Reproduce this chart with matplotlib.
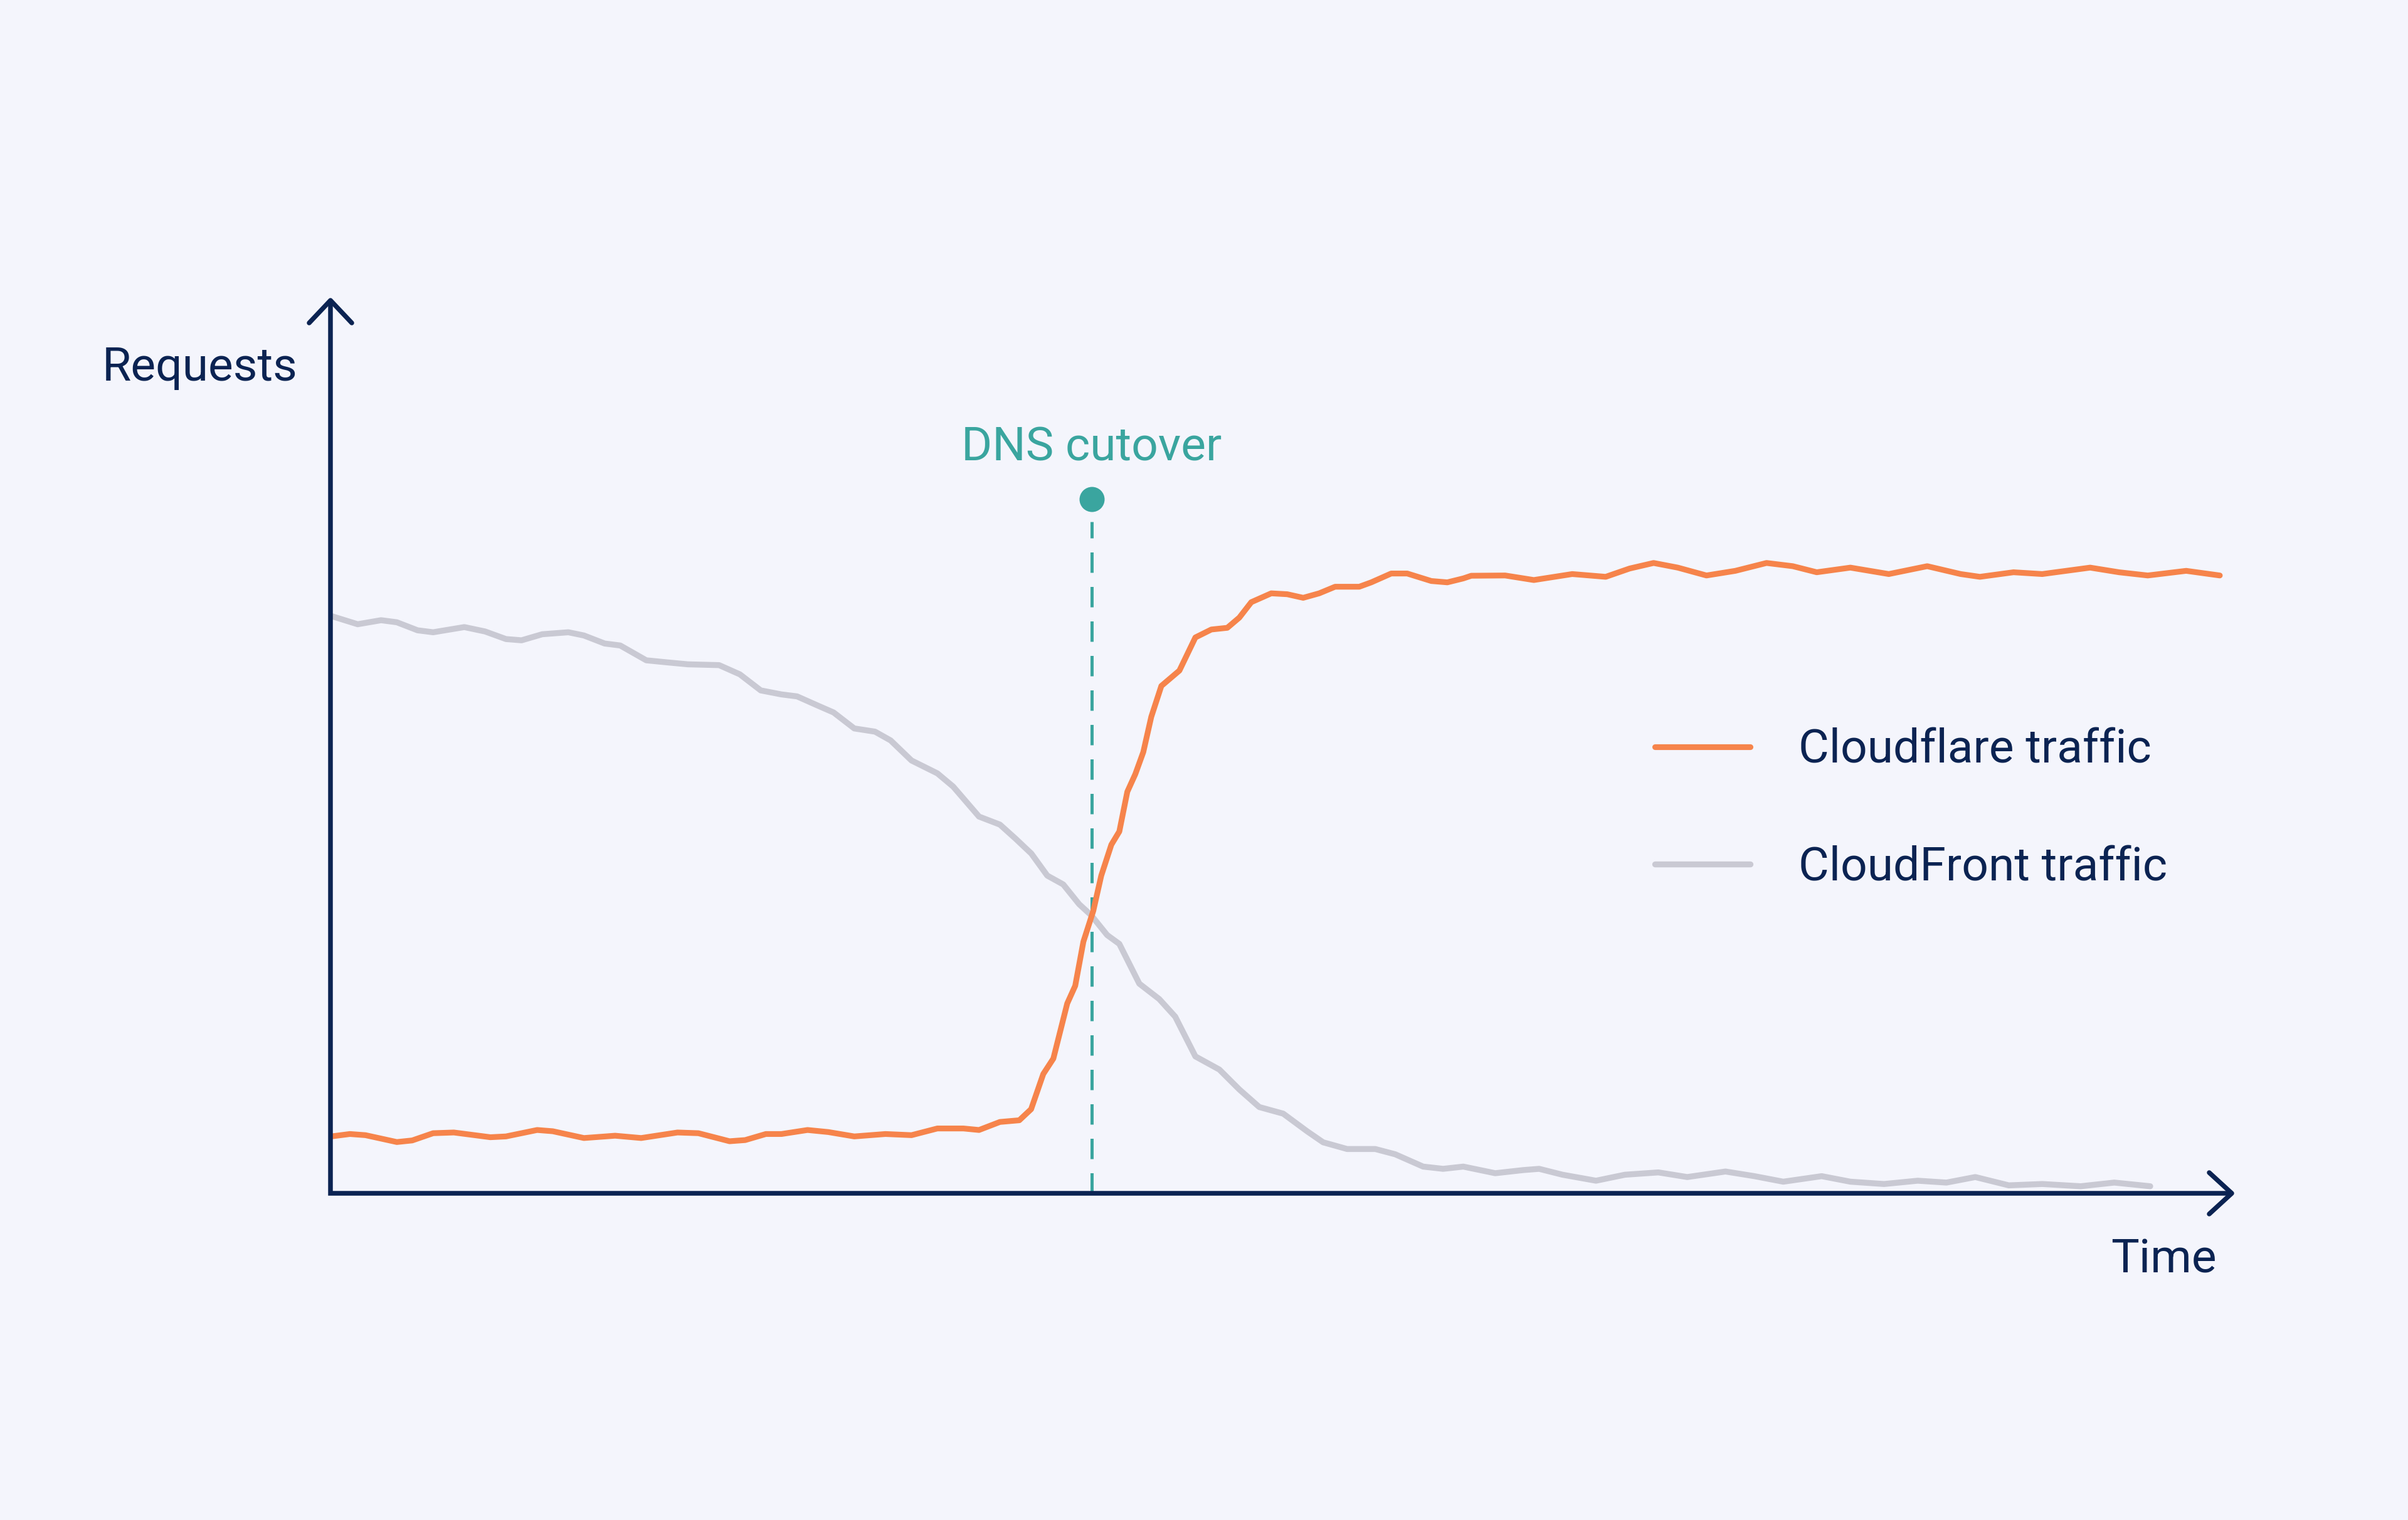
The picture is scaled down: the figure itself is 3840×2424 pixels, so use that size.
import matplotlib
matplotlib.use('Agg')
import matplotlib.pyplot as plt

# time axis runs 0..100 (arrow tip), requests 0..100 (arrow tip)
t_cloudflare = [0.07, 1.02, 1.84, 3.49, 4.30, 5.40, 6.49, 8.41, 9.23, 10.87, 11.69, 13.33,
                14.97, 16.34, 18.25, 19.35, 20.99, 21.81, 22.90, 23.72, 25.09, 26.18, 27.55,
                29.19, 30.56, 31.92, 33.29, 34.11, 35.21, 36.23, 36.85, 37.49, 38.02, 38.75,
                39.17, 39.60, 40.12, 40.54, 41.07, 41.49, 41.91, 42.33, 42.75, 43.17, 43.70,
                44.65, 45.49, 46.33, 47.17, 47.80, 48.43, 49.48, 50.32, 51.16, 52.00, 52.84,
                54.11, 54.74, 55.79, 56.63, 57.90, 58.74, 59.58, 60.00, 61.78, 63.29, 65.31,
                67.07, 68.33, 69.59, 70.86, 72.37, 73.89, 75.53, 76.91, 78.17, 79.94, 81.96,
                83.98, 85.74, 86.75, 88.52, 90.03, 92.55, 94.07, 95.58, 97.60, 99.37]
cloudflare = [6.38, 6.64, 6.51, 5.74, 5.92, 6.73, 6.81, 6.28, 6.37, 7.09, 6.95, 6.19,
              6.45, 6.19, 6.81, 6.73, 5.83, 5.96, 6.64, 6.64, 7.09, 6.86, 6.37,
              6.64, 6.51, 7.26, 7.26, 7.09, 7.99, 8.18, 9.42, 13.36, 15.09, 21.26,
              23.24, 28.18, 31.63, 35.58, 39.04, 40.52, 44.97, 46.94, 49.41, 53.36, 56.82,
              58.54, 62.25, 63.14, 63.33, 64.47, 66.20, 67.19, 67.09, 66.69, 67.19, 67.93,
              67.93, 68.42, 69.41, 69.41, 68.57, 68.42, 68.86, 69.16, 69.19, 68.68, 69.35,
              69.04, 69.97, 70.59, 70.07, 69.19, 69.71, 70.59, 70.23, 69.55, 70.07, 69.35,
              70.23, 69.35, 69.04, 69.55, 69.35, 70.07, 69.55, 69.19, 69.71, 69.19]

t_cloudfront = [0.07, 1.43, 2.66, 3.49, 4.58, 5.40, 7.04, 8.13, 9.23, 10.05, 11.14, 12.51,
                13.33, 14.42, 15.24, 16.61, 17.70, 18.80, 20.44, 21.53, 22.63, 23.72, 24.54,
                25.64, 26.46, 27.55, 28.64, 29.46, 30.56, 31.92, 32.75, 34.11, 35.21, 36.03,
                36.86, 37.70, 38.54, 39.38, 40.01, 40.85, 41.49, 42.54, 43.59, 44.43, 45.49,
                46.75, 47.80, 48.85, 50.11, 51.37, 52.21, 53.47, 54.95, 56.00, 57.47, 58.52,
                59.58, 61.26, 62.73, 63.57, 64.80, 66.56, 68.08, 69.84, 71.36, 73.37, 74.89,
                76.41, 78.43, 79.94, 81.71, 83.48, 84.99, 86.51, 88.27, 90.03, 92.05, 93.82,
                95.71]
cloudfront = [64.63, 63.73, 64.18, 63.95, 63.05, 62.83, 63.41, 62.92, 62.07, 61.93, 62.61, 62.83,
              62.47, 61.57, 61.35, 59.69, 59.46, 59.24, 59.15, 58.12, 56.32, 55.87, 55.65,
              54.61, 53.85, 52.06, 51.70, 50.72, 48.47, 47.03, 45.55, 42.19, 41.29, 39.72,
              38.05, 35.58, 34.59, 32.37, 31.14, 28.92, 27.93, 23.48, 21.75, 19.78, 15.33,
              13.86, 11.63, 9.66, 8.92, 6.94, 5.71, 4.96, 4.96, 4.37, 2.99, 2.74,
              2.99, 2.25, 2.60, 2.74, 2.08, 1.41, 2.08, 2.34, 1.82, 2.44, 1.92,
              1.30, 1.92, 1.30, 1.04, 1.41, 1.20, 1.82, 0.89, 1.04, 0.79, 1.20,
              0.79]

cutover_t = 40.04
cutover_label = 'DNS cutover'
series_labels = ['Cloudflare traffic', 'CloudFront traffic']

BG = '#F4F5FC'
NAVY = '#0B2352'
ORANGE = '#F6844B'
GREY = '#C9C9D3'
TEAL = '#3AA59F'

W, H = 3840, 2424
DPI = 200
plt.rcParams['font.family'] = ['Roboto', 'DejaVu Sans']

fig = plt.figure(figsize=(W / DPI, H / DPI), dpi=DPI, facecolor=BG)
# axes box: origin at (527, 1903) px, arrow tips at x=3559 / y=479
ax = fig.add_axes([527 / W, 1 - 1903 / H, (3559 - 527) / W, (1903 - 479) / H])
ax.set_facecolor(BG)
ax.set_xlim(0, 100)
ax.set_ylim(0, 100)
ax.axis('off')

ax.plot(t_cloudfront, cloudfront, color=GREY, lw=3.4, label=series_labels[1],
        solid_capstyle='round', solid_joinstyle='round', zorder=2, clip_on=False)
ax.plot([cutover_t, cutover_t], [0, 75.2], color=TEAL, lw=1.8, dashes=(6.5, 4.5),
        zorder=3, clip_on=False)
ax.plot(t_cloudflare, cloudflare, color=ORANGE, lw=3.3, label=series_labels[0],
        solid_capstyle='round', solid_joinstyle='round', zorder=4, clip_on=False)
ax.plot([cutover_t], [77.76], 'o', color=TEAL, ms=14.4, mec='none', zorder=5, clip_on=False)

# axes with open arrow heads
axis_kw = dict(color=NAVY, lw=2.7, transform=ax.transAxes, clip_on=False,
               solid_joinstyle='miter', solid_capstyle='butt', zorder=6)
ax.plot([0, 0, 1], [1, 0, 0], **axis_kw)
hx, hy = 36 / 3032, 33 / 1424
ax.plot([1 - hx, 1, 1 - hx], [hy, 0, -hy], **dict(axis_kw, solid_capstyle='round',
                                                    solid_joinstyle='round'))
vx, vy = 34 / 3032, 36 / 1424
ax.plot([-vx, 0, vx], [1 - vy, 1, 1 - vy], **dict(axis_kw, solid_capstyle='round',
                                                    solid_joinstyle='round'))

FS = 27
fig.text(163 / W, 1 - 607 / H, 'Requests', color=NAVY, fontsize=FS, va='baseline', ha='left')
fig.text(3535 / W, 1 - 2030 / H, 'Time', color=NAVY, fontsize=FS, va='baseline', ha='right')
ax.text(cutover_t, 82.05, cutover_label, color=TEAL, fontsize=FS, ha='center', va='baseline')

handles, labels = ax.get_legend_handles_labels()
order = [1, 0]
leg = ax.legend([handles[i] for i in order], [labels[i] for i in order],
                loc='center left', bbox_to_anchor=(2639 / W, 1 - 1290 / H),
                bbox_transform=fig.transFigure, frameon=False, fontsize=FS,
                handlelength=2.02, handletextpad=1.04, labelspacing=1.55,
                borderpad=0, borderaxespad=0, labelcolor=NAVY)

fig.savefig('out.png', dpi=DPI, facecolor=BG)
